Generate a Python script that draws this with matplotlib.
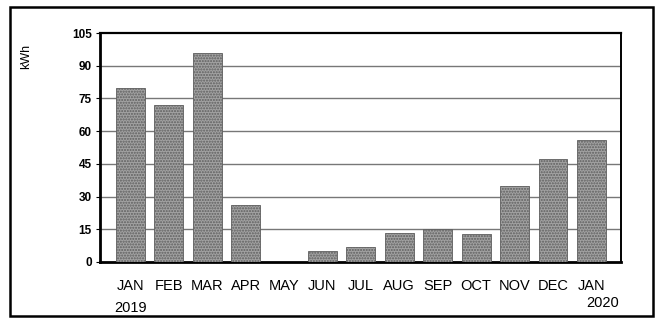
import matplotlib.pyplot as plt
from matplotlib.patches import Rectangle

plt.rcParams['font.family'] = ['Liberation Sans', 'DejaVu Sans']

months = ['JAN', 'FEB', 'MAR', 'APR', 'MAY', 'JUN', 'JUL',
          'AUG', 'SEP', 'OCT', 'NOV', 'DEC', 'JAN']
usage_kwh = [80, 72, 96, 26, 0, 5, 7, 13.5, 15, 13, 35, 47, 56]
yticks = [0, 15, 30, 45, 60, 75, 90, 105]

W, H = 658, 324
fig = plt.figure(figsize=(W / 100, H / 100), dpi=100)
fig.patch.set_facecolor('white')

# axes box in pixel terms: left 100, right 621, top 33, bottom 262
ax = fig.add_axes([100 / W, 1 - 262 / H, 521 / W, 229 / H])

x = range(len(months))
ax.bar(x, usage_kwh, width=0.75, color='#a2a2a2', edgecolor='#5e5e5e',
       linewidth=0.6, hatch='......', zorder=3)

ax.set_ylim(0, 105)
ax.set_xlim(-0.79, 12.77)
ax.set_yticks(yticks)
ax.set_yticklabels([str(v) for v in yticks], fontsize=8.5, fontweight='bold')
ax.set_xticks(list(x))
ax.set_xticklabels(months, fontsize=10.5)
ax.tick_params(axis='x', length=0, pad=12)
ax.tick_params(axis='y', length=3, width=0.8, pad=3)

for v in yticks[1:-1]:
    ax.axhline(v, color='#777777', linewidth=1.0, zorder=1)

ax.spines['left'].set_linewidth(2.0)
ax.spines['bottom'].set_linewidth(2.0)
ax.spines['top'].set_linewidth(1.6)
ax.spines['right'].set_linewidth(1.4)
for s in ax.spines.values():
    s.set_color('black')

fig.text(26 / W, 1 - 56 / H, 'kWh', rotation=90,
         fontsize=9, ha='center', va='center')

# year captions under the first and last month
fig.text(131 / W, 1 - 308 / H, '2019', fontsize=10.5, ha='center', va='center')
fig.text(603 / W, 1 - 303 / H, '2020', fontsize=10.5, ha='center', va='center')

# outer frame
fig.patches.append(Rectangle((10 / W, 1 - 316 / H), 643 / W, 309 / H,
                             transform=fig.transFigure, fill=False,
                             edgecolor='black', linewidth=1.8))

fig.savefig('out.png', dpi=100)
